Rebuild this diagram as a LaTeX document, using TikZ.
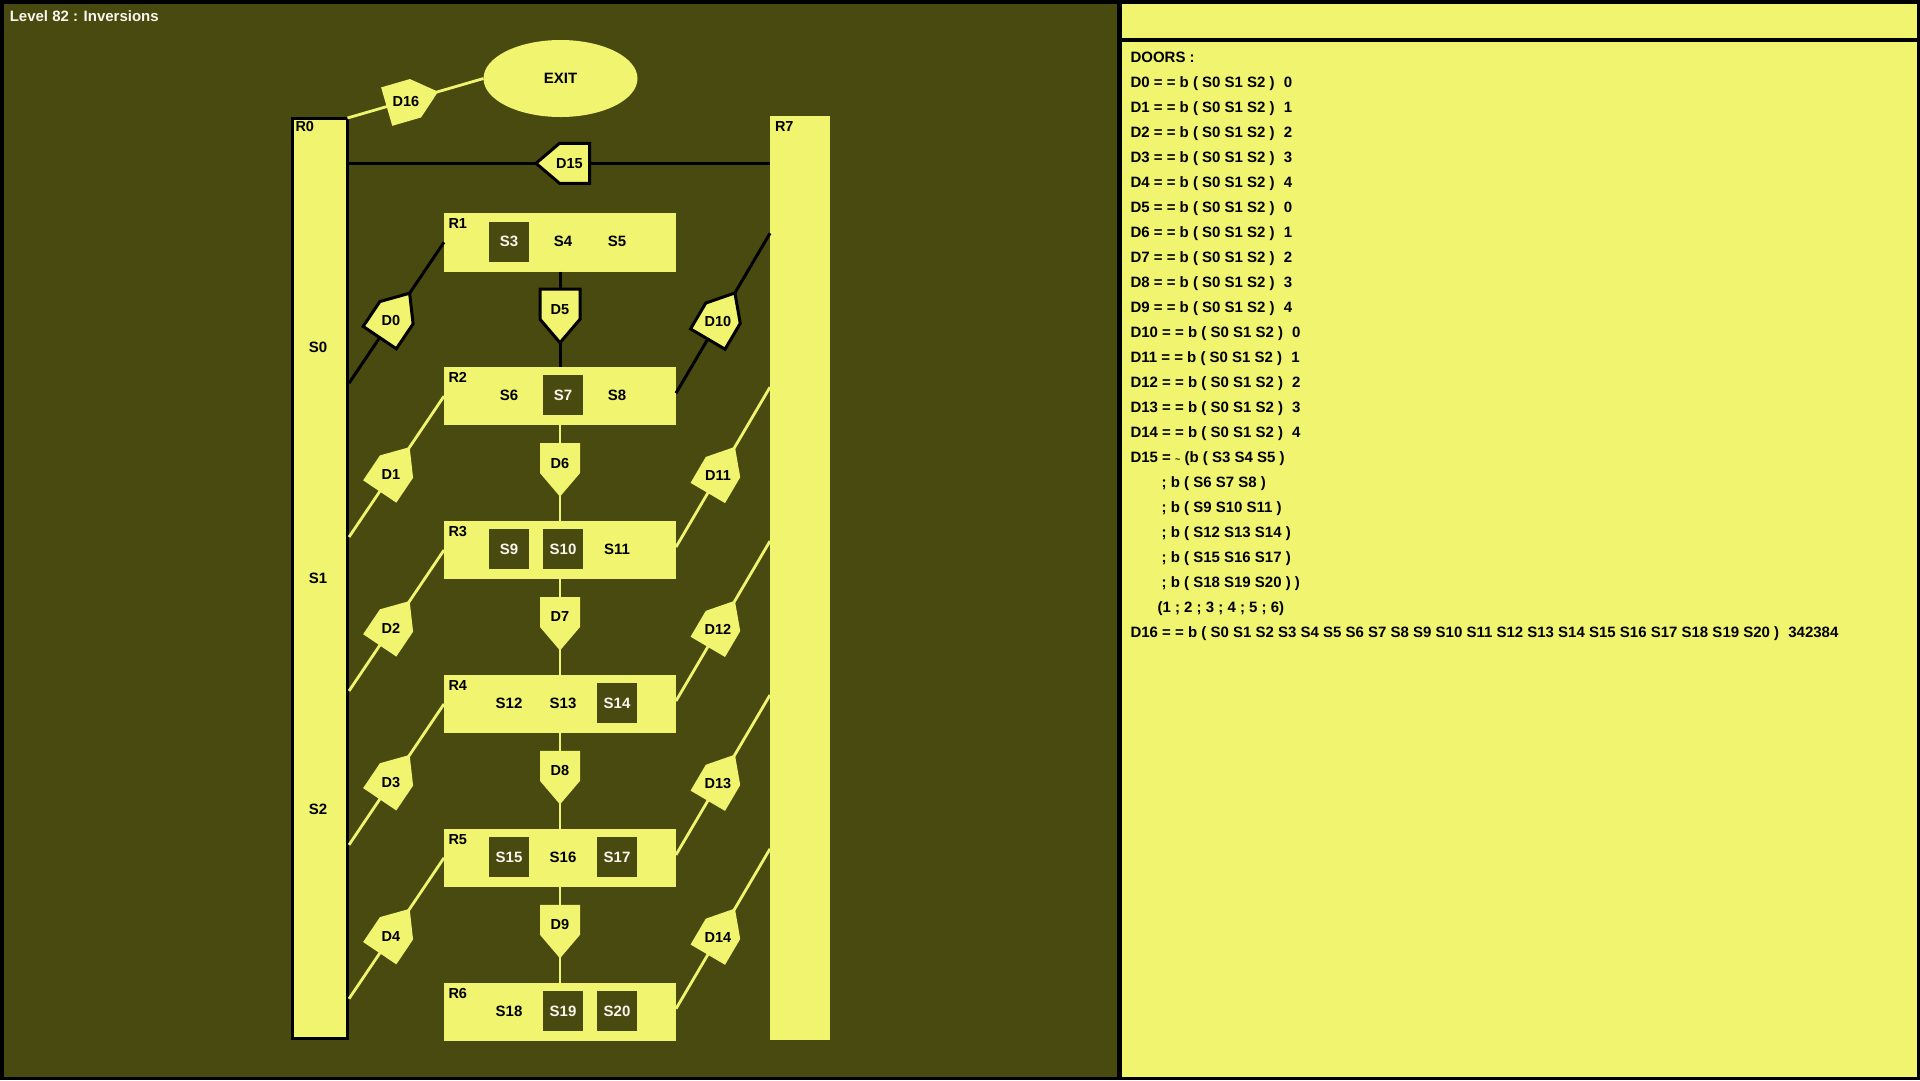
\documentclass[tikz,border=0pt]{standalone}
\usepackage{fontspec}
\setmainfont{Liberation Sans}
\usetikzlibrary{calc,shapes.geometric}
\definecolor{bgdark}{RGB}{73,74,15}
\definecolor{yel}{RGB}{240,244,110}
\definecolor{txtlight}{RGB}{246,246,236}
\newcommand{\mkdoor}[4]{%
  \coordinate (#1a) at (#2);
  \coordinate (#1b) at (#3);
  \coordinate (#1m) at ($(#1a)!0.5!(#1b)$);
  \coordinate (#1t) at ($(#1m)!23.5pt!(#1b)$);
  \coordinate (#1k) at ($(#1m)!30pt!180:(#1b)$);
  \draw[#4line] (#1a) -- (#1b);
  \filldraw[#4door] ($(#1m)!20pt!90:(#1b)$) -- (#1t) -- ($(#1m)!20pt!-90:(#1b)$)
     -- ($(#1k)!20pt!-90:(#1b)$) -- ($(#1k)!20pt!90:(#1b)$) -- cycle;
  \node[doorlabel] (#1) at ($(#1m)!10pt!180:(#1b)$) {#1};
}
\begin{document}
\begin{tikzpicture}[x=1pt,y=-1pt,
  every node/.style={inner sep=0pt, outer sep=0pt, font=\fontsize{15}{18}\selectfont\bfseries},
  room/.style={fill=yel, minimum width=232pt, minimum height=58.5pt},
  rlabel/.style={anchor=base west, font=\fontsize{14.5}{17}\selectfont\bfseries},
  doorlabel/.style={font=\fontsize{14.5}{17}\selectfont\bfseries},
  dslot/.style={fill=bgdark, minimum width=40pt, minimum height=40pt, text=txtlight},
  lslot/.style={text=black},
  paneltext/.style={anchor=base west, font=\fontsize{15}{18}\selectfont\bfseries},
  bkline/.style={draw=black, line width=3pt},
  ylline/.style={draw=yel, line width=2.8pt},
  bkdoor/.style={fill=yel, draw=black, line width=3pt, line join=miter},
  yldoor/.style={fill=yel, draw=none}
]
\useasboundingbox (0,0) rectangle (1920,1080);
% panels
\fill[black] (0,0) rectangle (1920,1080);
\fill[bgdark] (4,4) rectangle (1117,1077);
\fill[yel] (1122,4) rectangle (1917,1077);
\fill[black] (1122,38.3) rectangle (1917,41.7);
% title
\node[anchor=base west, text=txtlight] (title) at (9.8,21.7) {Level 82 : Inversions};
% big rooms
\node[draw=black, line width=3pt, fill=yel, minimum width=55pt, minimum height=920.5pt] (R0) at (320,578.25) {};
\node[fill=yel, minimum width=60pt, minimum height=924pt] (R7) at (800,578) {};
\node[rlabel] (R0lab) at (295.5,131.7) {R0};
\node[rlabel] (R7lab) at (775,131.7) {R7};
\node (S0) at (318,347) {S0};
\node (S1) at (318,578) {S1};
\node (S2) at (318,809) {S2};
% exit
\node[ellipse, fill=yel, minimum width=154pt, minimum height=77pt] (EXIT) at (560.5,78.5) {EXIT};
% rooms R1..R6
\foreach \k in {1,...,6}{
  \pgfmathsetmacro{\cy}{242.25+153.9*(\k-1)}
  \node[room] (R\k) at (560,\cy) {};
  \node[rlabel] (R\k lab) at (448.5,{\cy-13.55}) {R\k};
}
% slots
\foreach \s/\x/\k/\t in {3/509/1/dslot,4/563/1/lslot,5/617/1/lslot,
  6/509/2/lslot,7/563/2/dslot,8/617/2/lslot,
  9/509/3/dslot,10/563/3/dslot,11/617/3/lslot,
  12/509/4/lslot,13/563/4/lslot,14/617/4/dslot,
  15/509/5/dslot,16/563/5/lslot,17/617/5/dslot,
  18/509/6/lslot,19/563/6/dslot,20/617/6/dslot}{
  \node[\t] (S\s) at (\x,{241.5+153.9*(\k-1)}) {S\s};
}
% doors
\mkdoor{D0}{$(R0.east |- R2.center)+(1.5,-13)$}{R1.west}{bk}
\mkdoor{D1}{$(R0.east |- R3.center)+(1.5,-13)$}{R2.west}{yl}
\mkdoor{D2}{$(R0.east |- R4.center)+(1.5,-13)$}{R3.west}{yl}
\mkdoor{D3}{$(R0.east |- R5.center)+(1.5,-13)$}{R4.west}{yl}
\mkdoor{D4}{$(R0.east |- R6.center)+(1.5,-13)$}{R5.west}{yl}
\mkdoor{D5}{R1.south}{R2.north}{bk}
\mkdoor{D6}{R2.south}{R3.north}{yl}
\mkdoor{D7}{R3.south}{R4.north}{yl}
\mkdoor{D8}{R4.south}{R5.north}{yl}
\mkdoor{D9}{R5.south}{R6.north}{yl}
\mkdoor{D10}{$(R2.east)+(0,-3)$}{$(R7.west |- R1.center)+(0,-9)$}{bk}
\mkdoor{D11}{$(R3.east)+(0,-3)$}{$(R7.west |- R2.center)+(0,-9)$}{yl}
\mkdoor{D12}{$(R4.east)+(0,-3)$}{$(R7.west |- R3.center)+(0,-9)$}{yl}
\mkdoor{D13}{$(R5.east)+(0,-3)$}{$(R7.west |- R4.center)+(0,-9)$}{yl}
\mkdoor{D14}{$(R6.east)+(0,-3)$}{$(R7.west |- R5.center)+(0,-9)$}{yl}
\coordinate (h15) at (0,163.3);
\mkdoor{D15}{R7.west |- h15}{$(R0.east |- h15)+(1.5,0)$}{bk}
\mkdoor{D16}{R0.north east}{EXIT.west}{yl}
% right panel text
\node[paneltext] (doors) at (1130.5,62.3) {DOORS :};
\foreach \i in {0,...,14}{
  \pgfmathtruncatemacro{\nn}{mod(\i,5)}
  \node[paneltext] (t\i) at (1130.5,{87.3+25*\i}) {D\i\ = = b ( S0 S1 S2 ) \hspace{5pt}\nn};
}
\node[paneltext] (t15) at (1130.5,462.3) {D15 = {\fontsize{9}{9}\selectfont\textasciitilde} (b ( S3 S4 S5 )};
\node[paneltext] (t16) at (1161.6,487.3) {; b ( S6 S7 S8 )};
\node[paneltext] (t17) at (1161.6,512.3) {; b ( S9 S10 S11 )};
\node[paneltext] (t18) at (1161.6,537.3) {; b ( S12 S13 S14 )};
\node[paneltext] (t19) at (1161.6,562.3) {; b ( S15 S16 S17 )};
\node[paneltext] (t20) at (1161.6,587.3) {; b ( S18 S19 S20 ) )};
\node[paneltext] (t21) at (1157.5,612.3) {(1 ; 2 ; 3 ; 4 ; 5 ; 6)};
\node[paneltext] (t22) at (1130.5,637.3) {D16 = = b ( S0 S1 S2 S3 S4 S5 S6 S7 S8 S9 S10 S11 S12 S13 S14 S15 S16 S17 S18 S19 S20 ) \hspace{5pt}342384};
\end{tikzpicture}
\end{document}
